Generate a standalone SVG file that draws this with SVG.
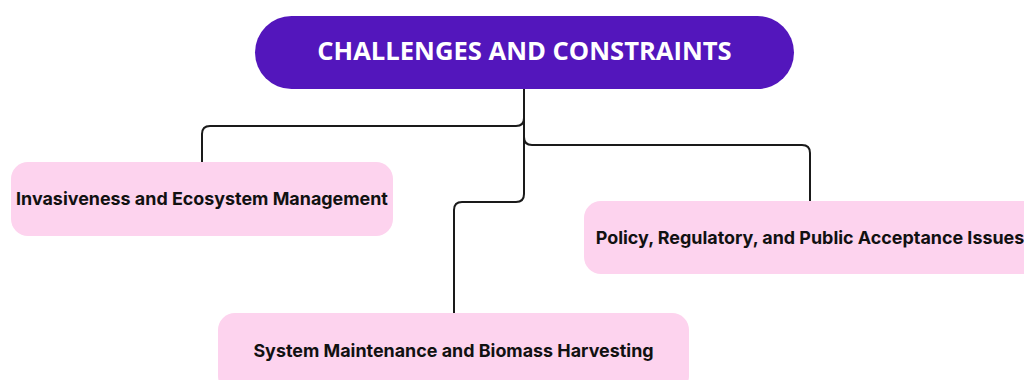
<svg xmlns="http://www.w3.org/2000/svg" width="1024" height="380" viewBox="0 0 1024 380">
  <style>
    .link { fill: none; stroke: #1a1a1a; stroke-width: 2; stroke-linecap: round; }
    .child rect { fill: #FDD3EE; }
    .child text { font-family: Inter, "Noto Sans", "Liberation Sans", sans-serif; font-weight: 700; font-size: 17.9px; fill: #111; text-anchor: middle; }
    .root rect { fill: #5316BC; }
    .root text { font-family: "Open Sans", "Noto Sans", "Liberation Sans", sans-serif; font-weight: 700; font-size: 25.6px; fill: #fff; text-anchor: middle; }
  </style>
  <rect width="1024" height="380" fill="#fff"/>

  <g id="connectors">
    <path class="link" d="M524 89 V118 Q524 126 516 126 H210 Q202 126 202 134 V162"/>
    <path class="link" d="M524 89 V137 Q524 145 532 145 H802 Q810 145 810 153 V201"/>
    <path class="link" d="M524 89 V194 Q524 202 516 202 H462 Q454 202 454 210 V313"/>
  </g>

  <g id="root" class="root">
    <rect x="255" y="16" width="539" height="73" rx="36.5"/>
    <text x="524.5" y="60">CHALLENGES AND CONSTRAINTS</text>
  </g>

  <g id="invasiveness" class="child">
    <rect x="11" y="162" width="382" height="74" rx="17"/>
    <text x="202" y="205">Invasiveness and Ecosystem Management</text>
  </g>

  <g id="policy" class="child">
    <rect x="584" y="201" width="460" height="73" rx="17"/>
    <text x="810" y="244">Policy, Regulatory, and Public Acceptance Issues</text>
  </g>

  <g id="maintenance" class="child">
    <rect x="218" y="313" width="471" height="80" rx="17"/>
    <text x="453.5" y="357">System Maintenance and Biomass Harvesting</text>
  </g>
</svg>
